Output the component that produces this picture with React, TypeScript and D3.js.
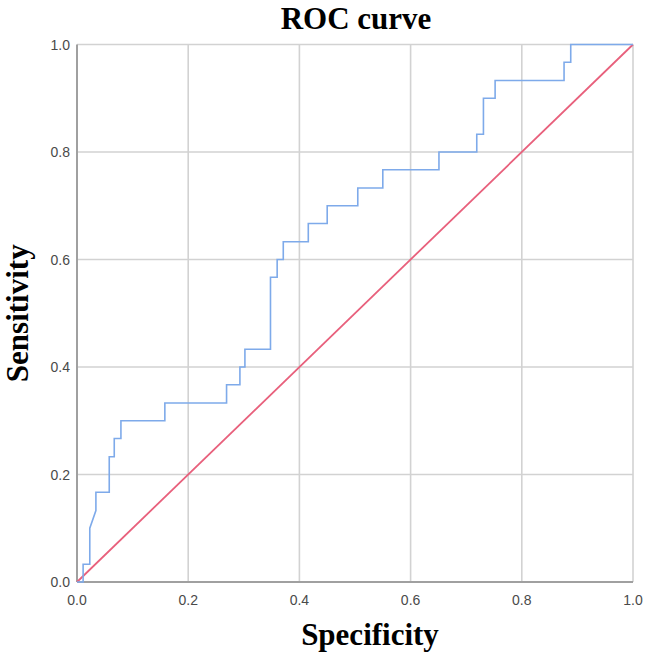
import * as d3 from "d3";

// ROC curve vertices (1 - specificity, sensitivity)
const fpr = [
  0, 0.011, 0.011, 0.023, 0.023, 0.034, 0.034, 0.058, 0.058, 0.067, 0.067, 0.079, 0.079,
  0.158, 0.158, 0.269, 0.269, 0.293, 0.293, 0.302, 0.302, 0.348, 0.348, 0.36, 0.36, 0.371,
  0.371, 0.416, 0.416, 0.45, 0.45, 0.505, 0.505, 0.55, 0.55, 0.651, 0.651, 0.719, 0.719,
  0.731, 0.731, 0.752, 0.752, 0.876, 0.876, 0.888, 0.888, 1,
];
const tpr = [
  0, 0, 0.033, 0.033, 0.1, 0.133, 0.167, 0.167, 0.233, 0.233, 0.267, 0.267, 0.3, 0.3,
  0.333, 0.333, 0.367, 0.367, 0.4, 0.4, 0.433, 0.433, 0.567, 0.567, 0.6, 0.6, 0.633, 0.633,
  0.667, 0.667, 0.7, 0.7, 0.733, 0.733, 0.767, 0.767, 0.8, 0.8, 0.833, 0.833, 0.9, 0.9,
  0.933, 0.933, 0.967, 0.967, 1, 1,
];
const reference = [0, 1];
const ticks = [0, 0.2, 0.4, 0.6, 0.8, 1.0];

const width = 646;
const height = 659;
const margin = { top: 44.5, right: 13, bottom: 77, left: 77 };

export default function App() {
  const x = d3.scaleLinear().domain([0, 1]).range([margin.left, width - margin.right]);
  const y = d3.scaleLinear().domain([0, 1]).range([height - margin.bottom, margin.top]);

  const curve = d3
    .line<number>()
    .x((d) => x(d))
    .y((_, i) => y(tpr[i]));
  const diag = d3
    .line<number>()
    .x((d) => x(d))
    .y((d) => y(d));

  const sans = "'Liberation Sans', Arial, sans-serif";
  const serif = "'Liberation Serif', 'Times New Roman', serif";

  return (
    <svg
      width={width}
      height={height}
      style={{ position: "absolute", left: 0, top: 0, background: "#fff" }}
    >
      {/* grid */}
      <g stroke="#d2d2d2" strokeWidth={1.6}>
        {ticks.slice(1).map((t) => (
          <line key={"v" + t} x1={x(t)} x2={x(t)} y1={y(0)} y2={y(1)} />
        ))}
        {ticks.slice(1).map((t) => (
          <line key={"h" + t} x1={x(0)} x2={x(1)} y1={y(t)} y2={y(t)} />
        ))}
      </g>
      {/* axes */}
      <g stroke="#a0a0a0" strokeWidth={2}>
        <line x1={x(0)} x2={x(0)} y1={y(0)} y2={y(1)} />
        <line x1={x(0)} x2={x(1)} y1={y(0)} y2={y(0)} />
      </g>
      <path
        d={diag(reference) ?? ""}
        fill="none"
        stroke="#e8607c"
        strokeWidth={1.8}
      />
      <path d={curve(fpr) ?? ""} fill="none" stroke="#7eaaea" strokeWidth={1.6} />

      {/* tick labels */}
      <g fontFamily={sans} fontSize={14} fill="#4a4a4a">
        {ticks.map((t) => (
          <text key={"yl" + t} x={x(0) - 7} y={y(t) + 5} textAnchor="end">
            {t.toFixed(1)}
          </text>
        ))}
        {ticks.map((t) => (
          <text key={"xl" + t} x={x(t)} y={y(0) + 23} textAnchor="middle">
            {t.toFixed(1)}
          </text>
        ))}
      </g>

      <text
        x={356}
        y={29}
        textAnchor="middle"
        fontFamily={serif}
        fontWeight="bold"
        fontSize={31}
        fill="#000"
      >
        ROC curve
      </text>
      <text
        x={370}
        y={645}
        textAnchor="middle"
        fontFamily={serif}
        fontWeight="bold"
        fontSize={31}
        fill="#000"
      >
        Specificity
      </text>
      <text
        transform={`translate(28,${(y(0) + y(1)) / 2}) rotate(-90)`}
        textAnchor="middle"
        fontFamily={serif}
        fontWeight="bold"
        fontSize={31}
        fill="#000"
      >
        Sensitivity
      </text>
    </svg>
  );
}
